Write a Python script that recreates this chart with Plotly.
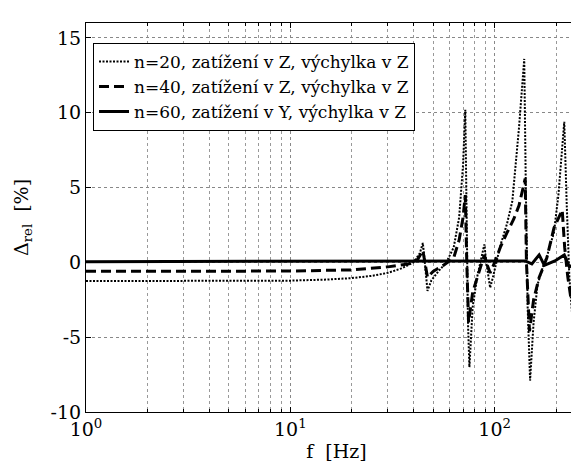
import numpy as np
import plotly.graph_objects as go

# n=20, load in Z, deflection in Z (dotted)
f20 = [1, 5, 10, 15, 20, 25, 30, 35, 40, 43, 44.5, 45.5, 46.9, 49, 53, 58, 63, 67, 70, 71.8,
       73, 74, 75.2, 78, 82, 86, 89, 91, 95, 98, 103, 106.5, 115, 122, 131.5, 139.5,
       142, 145, 149, 155, 162, 172, 181, 195, 205, 214, 219, 225, 232, 239, 250, 262, 280]
d20 = [-1.25, -1.25, -1.22, -1.15, -1.05, -0.9, -0.7, -0.4, 0.0, 0.6, 1.3, 0.0, -1.9, -1.2, -0.6, 0.0, 1.0, 3.0, 6.5, 10.2,
       2.0, -4.0, -7.0, -3.0, -1.0, 0.2, 1.2, 0.0, -1.7, -1.0, 0.3, 1.1, 2.6, 4.1, 9.0, 13.6,
       5.0, -3.0, -7.9, -4.0, -1.5, -0.3, 0.5, 2.0, 4.5, 7.6, 9.4, 4.0, -1.0, -3.4, -2.0, -0.5, 0.1]

# n=40, load in Z, deflection in Z (dashed)
f40 = [1, 10, 20, 30, 38, 42, 44.5, 45.5, 46.9, 50, 56, 63, 67, 70, 71.8, 73, 74.5, 78, 84, 89,
       92, 95, 100, 106.5, 115, 124, 131.5, 141, 143, 148, 155, 165, 172, 180, 195, 205, 214,
       220, 228, 236, 245, 262, 280]
d40 = [-0.6, -0.58, -0.5, -0.3, -0.1, 0.2, 0.8, 0.0, -1.0, -0.6, -0.2, 0.3, 1.5, 3.0, 4.5, 0.0, -4.0, -2.0, -0.6, 0.5,
       -0.2, -0.7, 0.0, 1.0, 2.0, 2.9, 3.8, 5.6, 0.0, -4.6, -2.5, -1.0, -0.4, 0.3, 2.3, 3.0, 3.5,
       1.0, -1.0, -2.4, -1.3, -0.3, 0.1]

# n=60, load in Y, deflection in Z (solid)
f60 = [1, 10, 100, 141, 152, 165, 175, 197, 219, 232, 248, 267, 280]
d60 = [0.05, 0.05, 0.05, 0.1, -0.1, 0.5, -0.2, 0.1, 0.5, -0.3, -0.1, 0.3, 0.25]

names = ["n=20, zatížení v Z, výchylka v Z",
         "n=40, zatížení v Z, výchylka v Z",
         "n=60, zatížení v Y, výchylka v Z"]

xtick_vals = [1, 10, 100]
xtick_text = ["10<sup>0</sup>", "10<sup>1</sup>", "10<sup>2</sup>"]
ytick_vals = [-10, -5, 0, 5, 10, 15]
ytick_text = ["-10", "-5", "0", "5", "10", "15"]

FONT = "DejaVu Serif"

fig = go.Figure()
fig.add_trace(go.Scatter(x=f20, y=d20, mode="lines", name=names[0],
                         line=dict(color="black", width=2, dash="2px,1.5px")))
fig.add_trace(go.Scatter(x=f40, y=d40, mode="lines", name=names[1],
                         line=dict(color="black", width=3, dash="10px,5px")))
fig.add_trace(go.Scatter(x=f60, y=d60, mode="lines", name=names[2],
                         line=dict(color="black", width=3)))

fig.update_layout(
    width=579, height=463,
    margin=dict(l=78, r=0, t=15, b=59),
    paper_bgcolor="white", plot_bgcolor="white",
    font=dict(family=FONT, size=19, color="black"),
    showlegend=True,
    legend=dict(x=0.014, y=0.949, xanchor="left", yanchor="top",
                bgcolor="white", bordercolor="black", borderwidth=1,
                font=dict(family=FONT, size=17, color="black"),
                itemwidth=30, tracegroupgap=0),
)
fig.update_xaxes(
    type="log", range=[0, 2.4517], automargin=False,
    tickvals=xtick_vals, ticktext=xtick_text,
    tickfont=dict(family=FONT, size=19),
    showline=True, linecolor="black", linewidth=1, mirror="ticks",
    ticks="inside", ticklen=5, tickcolor="black",
    showgrid=True, gridcolor="#888888", griddash="dot", gridwidth=1,
    minor=dict(tickvals=[2, 3, 4, 5, 6, 7, 8, 9, 20, 30, 40, 50, 60, 70, 80, 90, 200],
               showgrid=True, gridcolor="#999999", griddash="dot", gridwidth=1,
               ticks="inside", ticklen=3, tickcolor="black"),
    zeroline=False,
    title=dict(text="f  [Hz]", standoff=0, font=dict(family=FONT, size=19)),
)
fig.update_yaxes(
    range=[-10, 16], automargin=False,
    tickvals=ytick_vals, ticktext=ytick_text,
    tickfont=dict(family=FONT, size=19),
    showline=True, linecolor="black", linewidth=1, mirror=False,
    ticks="inside", ticklen=5, tickcolor="black",
    showgrid=True, gridcolor="#888888", griddash="dot", gridwidth=1,
    zeroline=False,
    title=dict(text="Δ<sub>rel</sub>  [%]", standoff=16, font=dict(family=FONT, size=19)),
)

fig.write_html("out.html")
